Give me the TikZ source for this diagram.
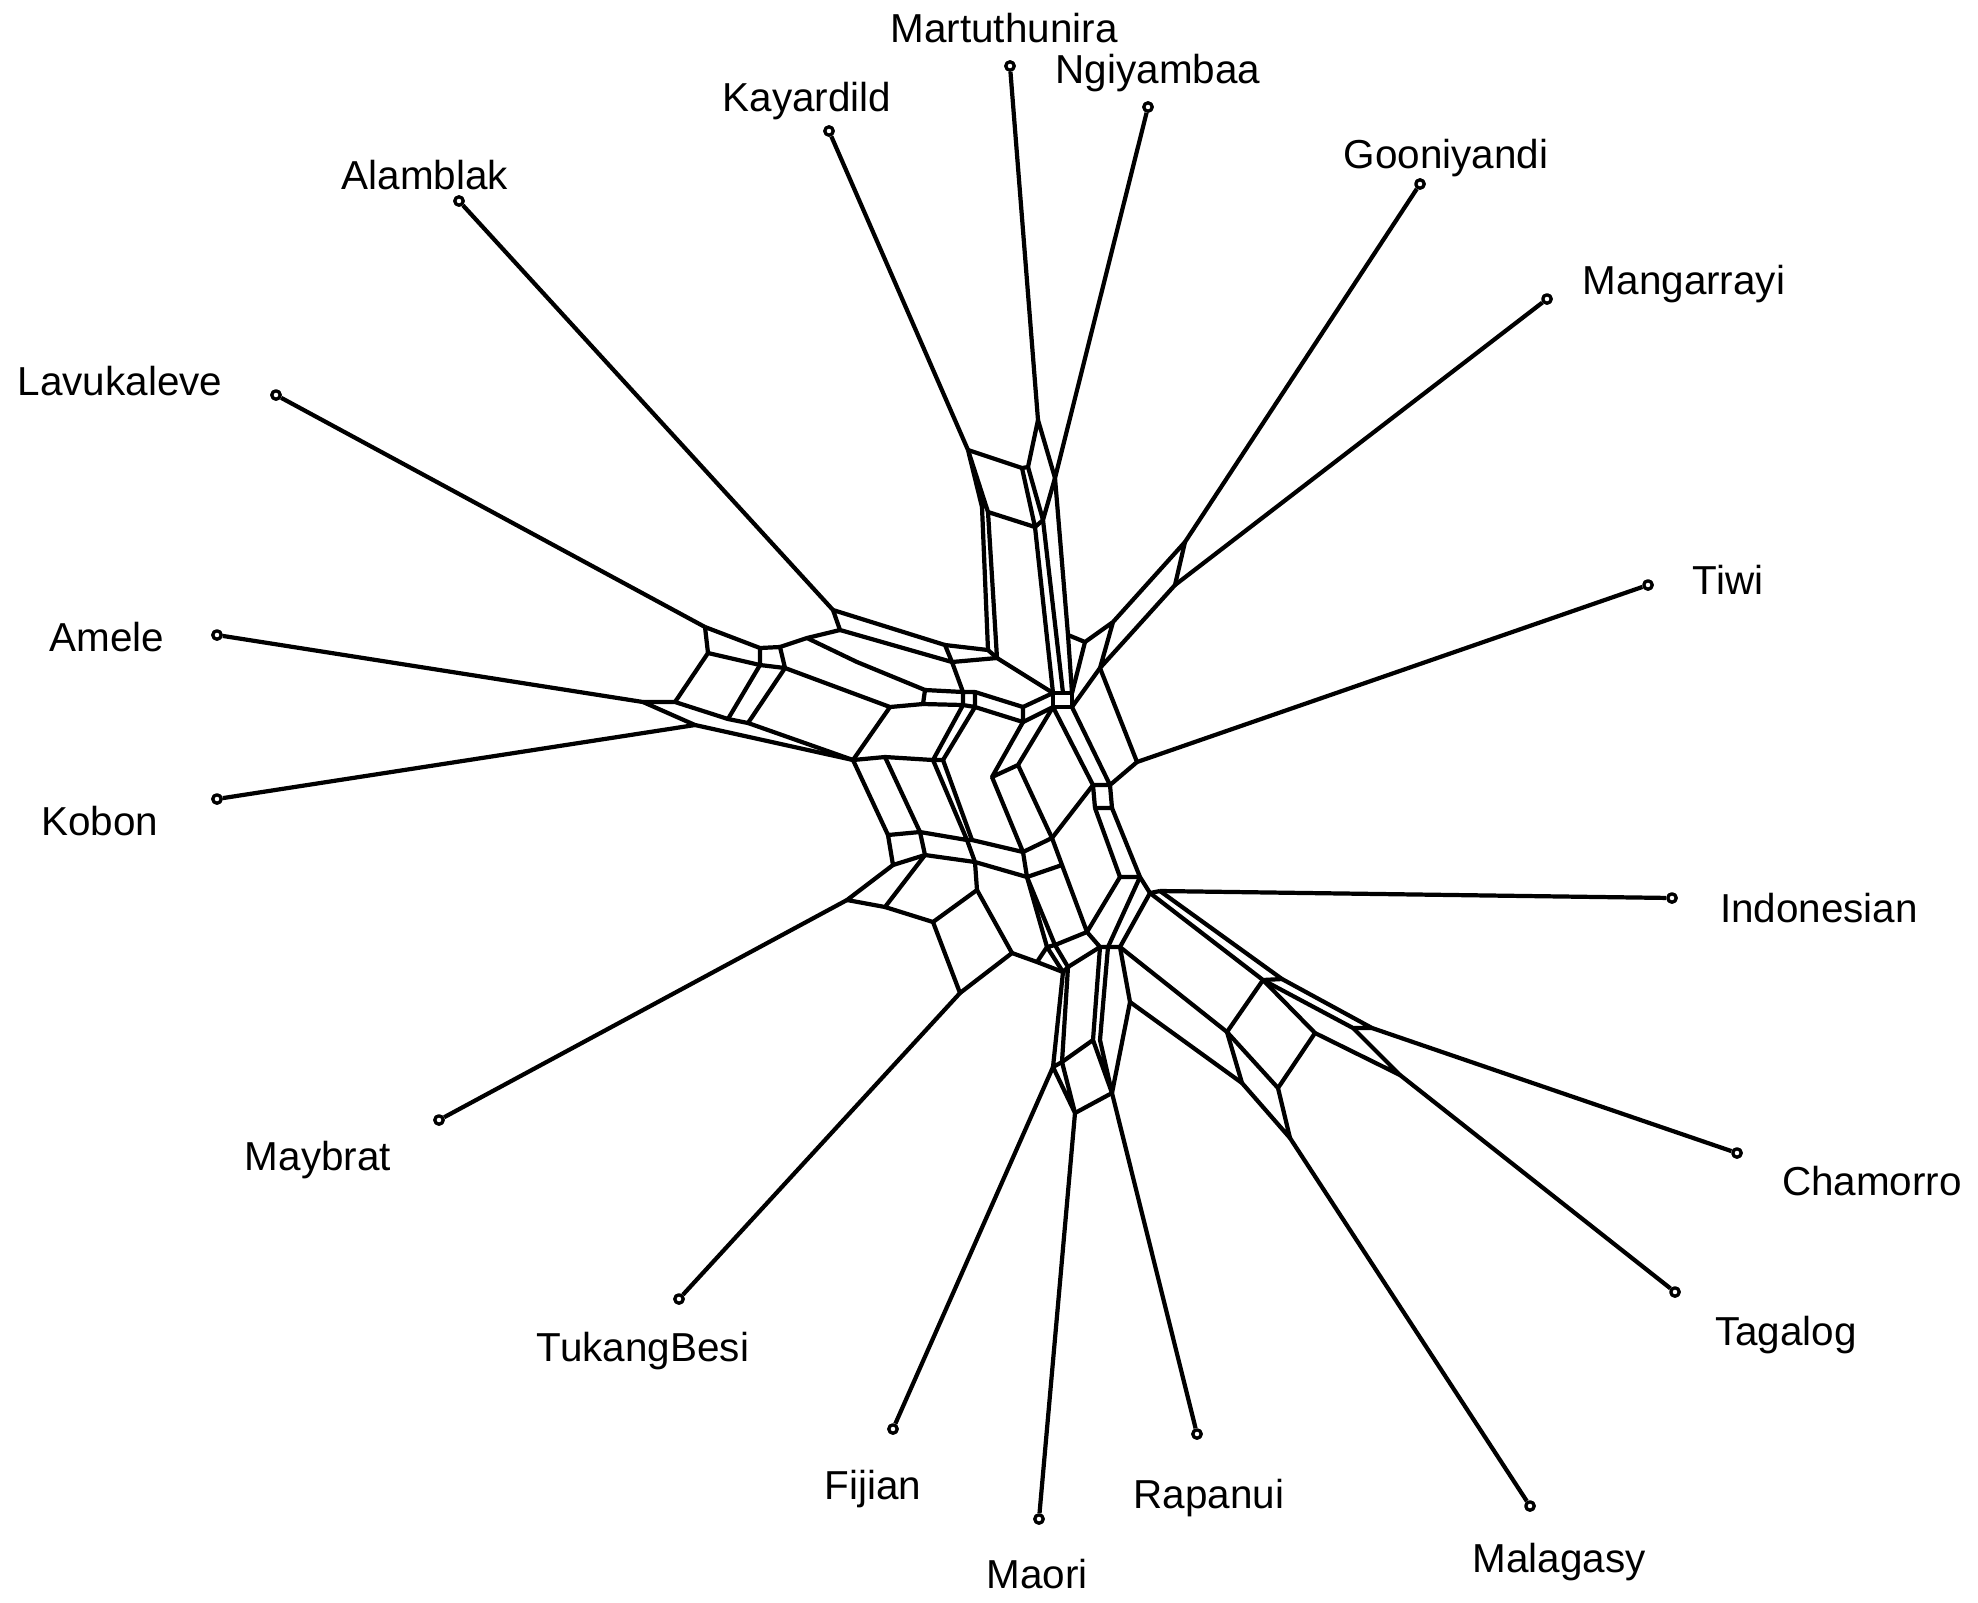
\documentclass[tikz,border=0pt]{standalone}
\usepackage{fontspec}
\setmainfont{Liberation Sans}
\begin{document}
\begin{tikzpicture}[x=0.01cm, y=-0.01cm, line join=round,
  edge/.style={line width=1.2pt},
  tip/.style={circle, draw, fill=white, line width=0.95pt, inner sep=0pt, minimum size=2.4pt},
  lang/.style={font=\fontsize{11.5}{14}\selectfont, inner sep=0pt, anchor=base}]
\useasboundingbox (0,0) rectangle (1978,1602);

\node[tip] (Mar) at (1010,66) {};
\node[tip] (Ngi) at (1148,107) {};
\node[tip] (Kay) at (829,131) {};
\node[tip] (Goo) at (1420,184) {};
\node[tip] (Ala) at (459,201) {};
\node[tip] (Man) at (1547,299) {};
\node[tip] (Lav) at (276,395) {};
\node[tip] (Tiw) at (1648,585) {};
\node[tip] (Ame) at (217,635) {};
\node[tip] (Kob) at (217,799) {};
\node[tip] (Ind) at (1672,898) {};
\node[tip] (May) at (439,1120) {};
\node[tip] (Cha) at (1737,1153) {};
\node[tip] (Tuk) at (679,1299) {};
\node[tip] (Tag) at (1675,1292) {};
\node[tip] (Fij) at (893,1429) {};
\node[tip] (Rap) at (1197,1434) {};
\node[tip] (Mal) at (1530,1506) {};
\node[tip] (Mao) at (1039,1519) {};

\node[lang] (lMar) at (1004,42) {Martuthunira};
\node[lang] (lNgi) at (1158,83) {Ngiyambaa};
\node[lang] (lKay) at (807,111) {Kayardild};
\node[lang] (lGoo) at (1446,168) {Gooniyandi};
\node[lang] (lAla) at (425,189) {Alamblak};
\node[lang] (lMan) at (1684,294) {Mangarrayi};
\node[lang] (lLav) at (120,395) {Lavukaleve};
\node[lang] (lTiw) at (1728,594) {Tiwi};
\node[lang] (lAme) at (107,651) {Amele};
\node[lang] (lKob) at (100,835) {Kobon};
\node[lang] (lInd) at (1819,922) {Indonesian};
\node[lang] (lMay) at (318,1170) {Maybrat};
\node[lang] (lCha) at (1872,1195) {Chamorro};
\node[lang] (lTuk) at (643,1361) {TukangBesi};
\node[lang] (lTag) at (1786,1345) {Tagalog};
\node[lang] (lFij) at (873,1499) {Fijian};
\node[lang] (lRap) at (1209,1508) {Rapanui};
\node[lang] (lMal) at (1559,1572) {Malagasy};
\node[lang] (lMao) at (1037,1588) {Maori};

\coordinate (K1) at (968,450);
\coordinate (M1) at (1038,420);
\coordinate (N1) at (1055,478);
\coordinate (Q1) at (1022,468);
\coordinate (Q1b) at (1028,467);
\coordinate (Q2) at (1035,527);
\coordinate (N2) at (1043,520);
\coordinate (K2) at (982,507);
\coordinate (K3) at (988,512);
\coordinate (K4) at (988,650);
\coordinate (K5) at (997,658);
\coordinate (N3) at (1068,635);
\coordinate (G1) at (1185,542);
\coordinate (G2) at (1175,585);
\coordinate (G3) at (1113,622);
\coordinate (G4) at (1085,642);
\coordinate (G5) at (1100,668);
\coordinate (C3) at (1053,693);
\coordinate (C3b) at (1063,693);
\coordinate (C4) at (1072,693);
\coordinate (C3d) at (1053,707);
\coordinate (C4d) at (1072,707);

\coordinate (AL) at (833,610);
\coordinate (AL2) at (840,630);
\coordinate (T1) at (945,645);
\coordinate (T2) at (952,662);
\coordinate (LV) at (705,627);
\coordinate (LVb) at (708,653);
\coordinate (S1) at (760,648);
\coordinate (S2) at (780,647);
\coordinate (S3) at (760,665);
\coordinate (S4) at (785,668);
\coordinate (U1) at (807,638);
\coordinate (U2) at (857,662);
\coordinate (V3) at (925,690);
\coordinate (V4) at (923,704);
\coordinate (X3) at (890,707);
\coordinate (X1) at (853,760);
\coordinate (W1) at (728,719);
\coordinate (W3) at (748,723);
\coordinate (V1) at (675,702);
\coordinate (V2) at (695,725);
\coordinate (AMe) at (643,702);

\coordinate (W5) at (963,692);
\coordinate (W6) at (975,692);
\coordinate (W7) at (963,705);
\coordinate (W8) at (975,707);
\coordinate (Y5) at (1023,707);
\coordinate (Y6) at (1023,722);
\coordinate (Y7) at (992,777);
\coordinate (Y8) at (1018,765);
\coordinate (E1) at (933,760);
\coordinate (E2) at (943,760);
\coordinate (Y1) at (885,757);
\coordinate (E3) at (920,832);
\coordinate (E4) at (925,855);
\coordinate (E5) at (967,840);
\coordinate (E6) at (972,840);
\coordinate (E7) at (1023,852);
\coordinate (D1) at (1052,838);
\coordinate (D2) at (1027,877);
\coordinate (D3) at (1062,865);
\coordinate (D5) at (977,890);
\coordinate (D6) at (975,862);
\coordinate (X4) at (888,835);
\coordinate (X5) at (893,865);
\coordinate (X6) at (847,900);
\coordinate (X6b) at (885,907);

\coordinate (P1) at (933,922);
\coordinate (P2) at (1012,953);
\coordinate (P2b) at (1037,962);
\coordinate (P3) at (960,993);
\coordinate (Z1) at (1047,947);
\coordinate (Z1b) at (1055,945);
\coordinate (Z5) at (1063,972);
\coordinate (Z6) at (1068,967);
\coordinate (Z2) at (1087,932);
\coordinate (Z3) at (1100,947);
\coordinate (Z4) at (1108,947);
\coordinate (R1) at (1120,947);
\coordinate (R0) at (1120,877);
\coordinate (R0b) at (1140,877);
\coordinate (B1) at (1093,785);
\coordinate (B2) at (1110,785);
\coordinate (B3) at (1095,808);
\coordinate (B4) at (1112,808);
\coordinate (TW) at (1137,762);
\coordinate (IJ) at (1150,893);
\coordinate (IJb) at (1160,891);
\coordinate (F1) at (1093,1040);
\coordinate (F2) at (1100,1040);
\coordinate (R2) at (1130,1002);
\coordinate (RP) at (1112,1093);
\coordinate (FJ1) at (1053,1067);
\coordinate (FJ2) at (1062,1062);
\coordinate (MO) at (1075,1113);

\coordinate (A) at (1263,980);
\coordinate (B) at (1282,979);
\coordinate (C) at (1227,1032);
\coordinate (D) at (1315,1033);
\coordinate (E) at (1278,1088);
\coordinate (F) at (1242,1083);
\coordinate (G) at (1290,1138);
\coordinate (H) at (1353,1028);
\coordinate (I) at (1372,1028);
\coordinate (J) at (1400,1075);

\draw[edge] (Kay) -- (K1);
\draw[edge] (Mar) -- (M1);
\draw[edge] (Ngi) -- (N1);
\draw[edge] (Goo) -- (G1);
\draw[edge] (Man) -- (G2);
\draw[edge] (Ala) -- (AL);
\draw[edge] (Lav) -- (LV);
\draw[edge] (Ame) -- (AMe);
\draw[edge] (Kob) -- (V2);
\draw[edge] (May) -- (X6);
\draw[edge] (Tuk) -- (P3);
\draw[edge] (Fij) -- (FJ1);
\draw[edge] (Mao) -- (MO);
\draw[edge] (Rap) -- (RP);
\draw[edge] (Mal) -- (G);
\draw[edge] (Tag) -- (J);
\draw[edge] (Cha) -- (I);
\draw[edge] (Ind) -- (IJb);
\draw[edge] (Tiw) -- (TW);

\draw[edge] (K1) -- (Q1) -- (Q1b) -- (M1) -- (N1);
\draw[edge] (Q1) -- (Q2) -- (N2) -- (Q1b);
\draw[edge] (N1) -- (N2);
\draw[edge] (K1) -- (K2) -- (K4) -- (K5) -- (K3) -- (K1);
\draw[edge] (K3) -- (Q2);
\draw[edge] (Q2) -- (C3);
\draw[edge] (N2) -- (C3b);
\draw[edge] (N1) -- (N3) -- (C4);
\draw[edge] (N3) -- (G4) -- (G3) -- (G1) -- (G2) -- (G5) -- (G3);
\draw[edge] (G4) -- (C4);
\draw[edge] (G5) -- (C4d);
\draw[edge] (C3) -- (C3b) -- (C4) -- (C4d) -- (C3d) -- (C3);
\draw[edge] (K5) -- (C3);

\draw[edge] (AL) -- (AL2) -- (T2) -- (T1) -- (AL);
\draw[edge] (T1) -- (K4);
\draw[edge] (T2) -- (K5);
\draw[edge] (LV) -- (S1) -- (S2) -- (S4) -- (S3) -- (S1);
\draw[edge] (LV) -- (LVb) -- (S3);
\draw[edge] (S2) -- (U1) -- (AL2);
\draw[edge] (U1) -- (U2) -- (V3) -- (V4) -- (X3) -- (S4);
\draw[edge] (X3) -- (X1);
\draw[edge] (AMe) -- (V1) -- (W1) -- (W3) -- (X1);
\draw[edge] (AMe) -- (V2) -- (X1);
\draw[edge] (LVb) -- (V1);
\draw[edge] (S3) -- (W1);
\draw[edge] (S4) -- (W3);
\draw[edge] (T2) -- (W5);

\draw[edge] (V3) -- (W5) -- (W6) -- (W8) -- (W7) -- (W5);
\draw[edge] (V4) -- (W7);
\draw[edge] (W6) -- (Y5) -- (Y6) -- (W8);
\draw[edge] (Y5) -- (C3);
\draw[edge] (Y6) -- (C3d);
\draw[edge] (C3d) -- (Y8) -- (Y7) -- (Y6);
\draw[edge] (W7) -- (E1) -- (E2) -- (W8);
\draw[edge] (X1) -- (Y1) -- (E1);
\draw[edge] (Y1) -- (E3) -- (E5) -- (E1);
\draw[edge] (E2) -- (E6) -- (E5);
\draw[edge] (E6) -- (E7) -- (Y7);
\draw[edge] (Y8) -- (D1) -- (E7);
\draw[edge] (D1) -- (D3) -- (D2) -- (E7);
\draw[edge] (E5) -- (D6) -- (D2);
\draw[edge] (E3) -- (E4) -- (D6);
\draw[edge] (X1) -- (X4) -- (E3);
\draw[edge] (X4) -- (X5) -- (E4);
\draw[edge] (X5) -- (X6) -- (X6b) -- (E4);
\draw[edge] (D6) -- (D5) -- (P1) -- (X6b);

\draw[edge] (D5) -- (P2) -- (P3) -- (P1);
\draw[edge] (P2) -- (P2b) -- (Z1);
\draw[edge] (P2b) -- (Z5);
\draw[edge] (D2) -- (Z1);
\draw[edge] (D2) -- (Z1b);
\draw[edge] (D3) -- (Z2) -- (R0);
\draw[edge] (Z1) -- (Z1b) -- (Z6) -- (Z5) -- (Z1);
\draw[edge] (Z1b) -- (Z2) -- (Z3) -- (Z6);
\draw[edge] (Z3) -- (Z4) -- (R1) -- (IJ);
\draw[edge] (R0b) -- (Z4);
\draw[edge] (C3d) -- (B1) -- (B2) -- (C4d);
\draw[edge] (B1) -- (B3) -- (B4) -- (B2) -- (TW) -- (G5);
\draw[edge] (D1) -- (B1);
\draw[edge] (B3) -- (R0) -- (R0b) -- (B4);
\draw[edge] (R0b) -- (IJ) -- (IJb);
\draw[edge] (Z3) -- (F1) -- (RP) -- (F2) -- (Z4);
\draw[edge] (R1) -- (R2) -- (RP);
\draw[edge] (F1) -- (FJ2);
\draw[edge] (Z5) -- (FJ1) -- (FJ2) -- (Z6);
\draw[edge] (FJ1) -- (MO) -- (FJ2);
\draw[edge] (MO) -- (RP);

\draw[edge] (IJ) -- (A) -- (B) -- (IJb);
\draw[edge] (A) -- (C) -- (E) -- (D) -- (A);
\draw[edge] (A) -- (H) -- (I) -- (B);
\draw[edge] (C) -- (F) -- (G) -- (E);
\draw[edge] (D) -- (J) -- (H);
\draw[edge] (R1) -- (C);
\draw[edge] (R2) -- (F);
\end{tikzpicture}
\end{document}
